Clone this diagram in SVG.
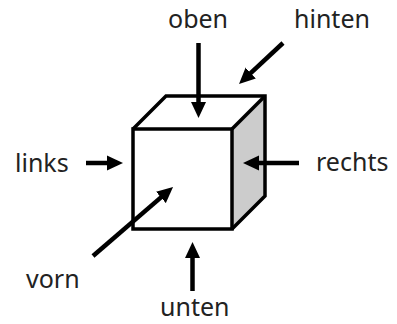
<svg xmlns="http://www.w3.org/2000/svg" width="397" height="324" viewBox="0 0 397 324">
<style>
.e{fill:none;stroke:#000;stroke-width:3.5;stroke-linejoin:miter}
.a{fill:none;stroke:#000;stroke-width:4.500;marker-end:url(#h)}
text{font-family:"Noto Sans","Open Sans","DejaVu Sans",sans-serif;font-size:25px;fill:#222}
</style>
<defs><marker id="h" markerUnits="userSpaceOnUse" markerWidth="17" markerHeight="16" refX="10" refY="8" orient="auto"><path d="M0,0.500L16,8L0,15.500Z" fill="#000"/></marker></defs>
<rect width="397" height="324" fill="#fff"/>
<g id="cube">
<path d="M232,129L265,96V196L232,229Z" fill="#ccc" stroke="none"/>
<path class="e" d="M133,129L166,96H265V196L232,229"/>
<path class="e" d="M232,129L265,96"/>
<rect class="e" x="133" y="129" width="99" height="100"/>
</g>
<g id="connectors">
<path class="a" d="M198.500,43V112"/>
<path class="a" d="M283,43L243.400,79.900"/>
<path class="a" d="M86,163H117"/>
<path class="a" d="M299,163H249"/>
<path class="a" d="M93,256L168.500,190.900"/>
<path class="a" d="M192.500,291V248"/>
</g>
<g id="oben"><text x="168" y="28">oben</text></g>
<g id="hinten"><text x="294" y="28">hinten</text></g>
<g id="links"><text x="15" y="172">links</text></g>
<g id="rechts"><text x="316" y="171">rechts</text></g>
<g id="vorn"><text x="26" y="288">vorn</text></g>
<g id="unten"><text x="160" y="316">unten</text></g>
</svg>
